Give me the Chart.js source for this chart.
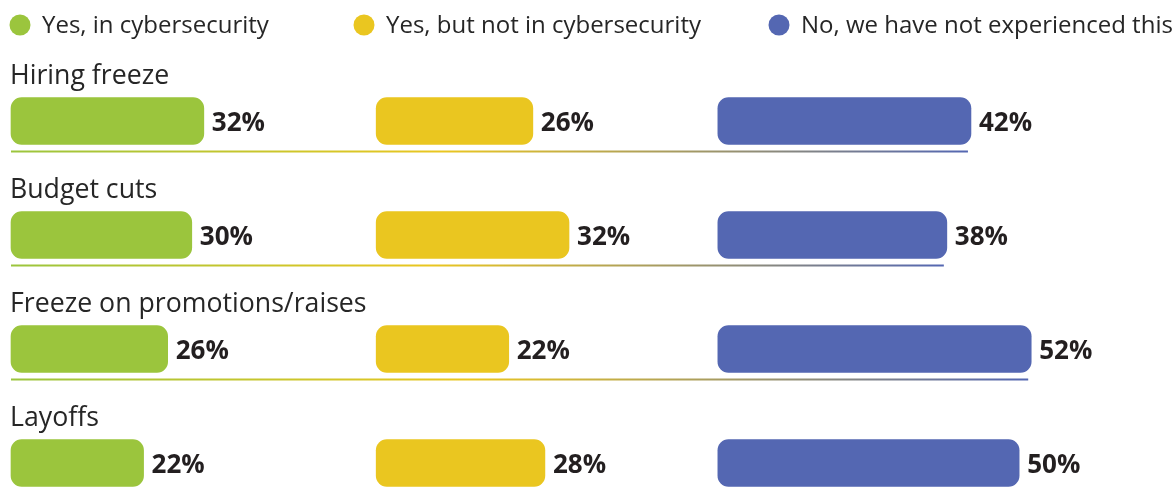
<!DOCTYPE html>
<html>
<head>
<meta charset="utf-8">
<script src="https://cdn.jsdelivr.net/npm/chart.js@4.4.1/dist/chart.umd.min.js"></script>
<style>
  html, body { margin: 0; padding: 0; background: #fff; }
  #wrap { width: 1174px; height: 491px; position: relative; }
</style>
</head>
<body>
<div id="wrap"><canvas id="chart"></canvas></div>
<script>
const categories = ["Hiring freeze", "Budget cuts", "Freeze on promotions/raises", "Layoffs"];
const seriesNames = ["Yes, in cybersecurity", "Yes, but not in cybersecurity", "No, we have not experienced this"];
const yesCyber = [32, 30, 26, 22];
const yesNotCyber = [26, 32, 22, 28];
const noneExperienced = [42, 38, 52, 50];

const colors = ["#9bc53d", "#eac620", "#5467b2"];
const columnStart = [0, 60.6, 117.3]; // where each column of bars begins on the x axis
const FONT = "'Open Sans', sans-serif";

function floating(values, start) {
  return values.map(v => [start, start + v]);
}

const allSeries = [yesCyber, yesNotCyber, noneExperienced];

const datasets = allSeries.map((vals, i) => ({
  label: seriesNames[i],
  data: floating(vals, columnStart[i]),
  backgroundColor: colors[i],
  borderRadius: 11,
  borderSkipped: false,
  barThickness: 47,
  grouped: false,
  clip: false
}));

const decorations = {
  id: "decorations",
  afterDatasetsDraw(chart) {
    const { ctx } = chart;
    const x = chart.scales.x;
    const y = chart.scales.y;

    // legend
    const legendX = [20, 364, 779];
    ctx.save();
    ctx.font = "24px " + FONT;
    ctx.textBaseline = "middle";
    seriesNames.forEach((name, i) => {
      ctx.fillStyle = colors[i];
      ctx.beginPath();
      ctx.arc(legendX[i], 25, 10.5, 0, Math.PI * 2);
      ctx.fill();
      ctx.fillStyle = "#262626";
      ctx.fillText(name, legendX[i] + 22, 26);
    });

    categories.forEach((cat, i) => {
      const cy = y.getPixelForValue(i);

      // category label above the bars
      ctx.font = "26.7px " + FONT;
      ctx.fillStyle = "#262626";
      ctx.textBaseline = "alphabetic";
      ctx.textAlign = "left";
      ctx.fillText(cat, x.getPixelForValue(0) - 1, cy - 23.5 - 14);

      // value labels
      ctx.font = "bold 26px " + FONT;
      ctx.fillStyle = "#231f20";
      ctx.textBaseline = "middle";
      allSeries.forEach((vals, s) => {
        const end = x.getPixelForValue(columnStart[s] + vals[i]);
        ctx.fillText(vals[i] + "%", end + 8, cy + 3);
      });

      // gradient underline
      const x0 = x.getPixelForValue(0);
      const x1 = x.getPixelForValue(columnStart[2] + noneExperienced[i]) - 3;
      const ly = cy + 23.5 + 7;
      const grad = ctx.createLinearGradient(x0, 0, x1, 0);
      grad.addColorStop(0, colors[0]);
      grad.addColorStop(0.45, colors[1]);
      grad.addColorStop(1, colors[2]);
      ctx.strokeStyle = grad;
      ctx.lineWidth = 2;
      ctx.beginPath();
      ctx.moveTo(x0, ly);
      ctx.lineTo(x1, ly);
      ctx.stroke();
    });
    ctx.restore();
  }
};

new Chart(document.getElementById("chart"), {
  type: "bar",
  data: { labels: categories, datasets },
  options: {
    indexAxis: "y",
    responsive: true,
    maintainAspectRatio: false,
    animation: false,
    layout: { padding: { left: 11, right: 6, top: 121, bottom: 28 } },
    scales: {
      x: { min: 0, max: 192, display: false },
      y: { offset: false, display: false }
    },
    plugins: {
      legend: { display: false },
      tooltip: { enabled: false }
    }
  },
  plugins: [decorations]
});
</script>
</body>
</html>
